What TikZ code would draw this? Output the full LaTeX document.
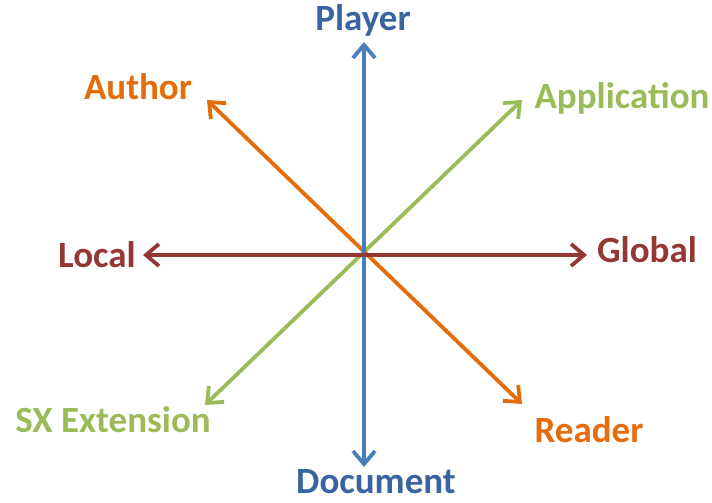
\documentclass[tikz,border=0pt]{standalone}
\usepackage{fontspec}
\setmainfont{Carlito}
\usetikzlibrary{arrows.meta}
\definecolor{axblue}{HTML}{4A7EBB}
\definecolor{txblue}{HTML}{3A64A0}
\definecolor{axorange}{HTML}{E46C0A}
\definecolor{axgreen}{HTML}{9BBB59}
\definecolor{axred}{HTML}{953735}
\tikzset{
  barb/.tip={Straight Barb[length=13pt,width=22pt,line width=3.8pt]},
  axis/.style={line width=3.8pt, barb-barb},
  lbl/.style={font=\fontsize{37}{40}\selectfont\bfseries, inner sep=0pt},
}
\begin{document}
\begin{tikzpicture}[x=1pt,y=-1pt]
\useasboundingbox (0,0) rectangle (712,503);
% arrow ends
\coordinate (pl) at (364,42);
\coordinate (dc) at (364,467);
\coordinate (lo) at (143,255);
\coordinate (gl) at (587,255);
\coordinate (au) at (207,100);
\coordinate (rd) at (522,404);
\coordinate (ap) at (522,100);
\coordinate (sx) at (205,405);
% axes, red one on top
\draw[axis, axgreen] (sx) -- (ap);
\draw[axis, axorange] (au) -- (rd);
\draw[axis, axblue] (pl) -- (dc);
\draw[axis, axred] (lo) -- (gl);
% labels
\node[lbl, txblue] (tpl) at (363,20) {Player};
\node[lbl, txblue] (tdc) at (376,482) {Document};
\node[lbl, axorange] (tau) at (138,87) {Author};
\node[lbl, axorange] (trd) at (589,430) {Reader};
\node[lbl, axgreen] (tap) at (622,98) {Application};
\node[lbl, axgreen] (tsx) at (113,420) {SX Extension};
\node[lbl, axred] (tlo) at (97,255) {Local};
\node[lbl, axred] (tgl) at (647,250) {Global};
\end{tikzpicture}
\end{document}
